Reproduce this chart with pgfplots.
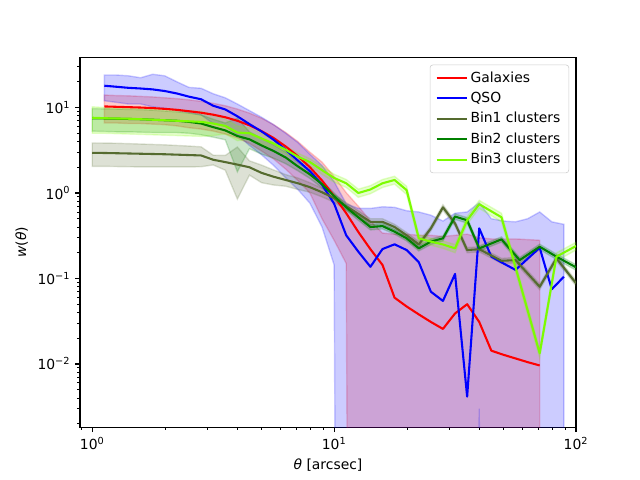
\documentclass[border=0pt]{standalone}
\usepackage{fontspec}
\setmainfont{DejaVu Sans}
\usepackage{pgfplots}
\usepackage{pgfplotstable}
\pgfplotsset{compat=1.18}
\usepgfplotslibrary{fillbetween}

\definecolor{oliveA}{HTML}{556B2F}
\definecolor{grnA}{HTML}{008000}
\definecolor{lgrnA}{HTML}{7CFC00}

\pgfplotstableread{
x w lo hi
1.122 10.3 6.6 14.0
1.259 10.2 6.6 13.8
1.413 10.1 6.5 13.7
1.585 10.0 6.5 13.5
1.778 9.85 6.4 13.3
1.995 9.65 6.3 13.0
2.239 9.4 6.1 12.7
2.512 9.05 5.8 12.3
2.818 8.7 5.6 11.8
3.162 8.25 5.3 11.2
3.548 7.7 4.9 10.5
3.981 7.0 4.4 9.6
4.467 6.2 3.8 8.6
5.012 5.3 3.1 7.5
5.623 4.4 2.5 6.3
6.310 3.5 1.9 5.1
7.079 2.7 1.4 4.0
7.943 2.0 1.0 3.0
8.913 1.4 0.5 2.3
10.00 0.92 0.28 1.56
11.22 0.58 0.15 1.01
12.59 0.35 1e-30 0.70
14.13 0.22 1e-30 0.47
15.85 0.144 1e-30 0.34
17.78 0.0596 1e-30 0.33
19.95 0.047 1e-30 0.33
22.39 0.038 1e-30 0.32
25.12 0.031 1e-30 0.32
28.18 0.0257 1e-30 0.31
31.62 0.039 1e-30 0.32
35.48 0.050 1e-30 0.33
39.81 0.031 1e-30 0.30
44.67 0.0143 1e-30 0.29
50.12 0.0128 1e-30 0.29
56.23 0.0116 1e-30 0.29
63.10 0.0105 1e-30 0.285
70.79 0.0096 1e-30 0.28
}\gal

\pgfplotstableread{
x w lo hi
1.122 18.0 12.0 24.0
1.259 17.5 11.5 24.0
1.413 17.0 11.0 23.5
1.585 16.7 11.0 22.3
1.778 16.3 10.2 24.5
1.995 15.6 9.8 23.5
2.239 14.6 9.2 20.0
2.512 13.4 8.7 17.2
2.818 12.5 8.2 16.8
3.162 10.5 6.5 14.5
3.548 9.5 6.0 13.0
3.981 7.9 4.8 11.0
4.467 6.4 3.6 9.2
5.012 5.25 2.8 7.7
5.623 4.2 2.1 6.3
6.310 3.2 1.5 5.0
7.079 2.4 1.1 3.9
7.943 1.8 0.76 2.84
8.913 1.25 0.4 2.1
10.00 0.75 0.144 1.36
11.22 0.32 1e-30 0.75
12.59 0.206 1e-30 0.66
14.13 0.137 1e-30 0.66
15.85 0.221 1e-30 0.69
17.78 0.251 1e-30 0.68
19.95 0.215 1e-30 0.62
22.39 0.155 1e-30 0.60
25.12 0.070 1e-30 0.55
28.18 0.0546 1e-30 0.47
31.62 0.113 1e-30 0.58
35.48 0.00415 1e-30 0.60
39.81 0.386 0.003 0.769
44.67 0.18 1e-30 0.50
50.12 0.15 1e-30 0.47
56.23 0.126 1e-30 0.46
63.10 0.17 1e-30 0.50
70.79 0.229 1e-30 0.60
79.43 0.0748 1e-30 0.46
89.13 0.105 1e-30 0.43
}\qso

\pgfplotstableread{
x w lo hi
1.000 2.95 2.05 3.85
1.122 2.94 2.05 3.84
1.259 2.92 2.04 3.82
1.413 2.90 2.03 3.78
1.585 2.88 2.02 3.74
1.778 2.86 2.02 3.70
1.995 2.84 2.02 3.66
2.239 2.81 2.02 3.60
2.512 2.78 2.02 3.54
2.818 2.75 2.03 3.47
3.162 2.45 2.13 2.77
3.548 2.30 1.85 2.75
3.981 2.15 0.85 3.45
4.467 2.00 1.62 2.38
5.012 1.72 1.32 2.12
5.623 1.55 1.24 1.86
6.310 1.42 1.20 1.64
7.079 1.30 1.10 1.50
7.943 1.17 1.02 1.32
8.913 1.02 0.90 1.14
10.00 0.87 0.78 0.96
11.22 0.70 0.63 0.77
12.59 0.57 0.52 0.62
14.13 0.46 0.42 0.50
15.85 0.46 0.42 0.50
17.78 0.40 0.37 0.43
19.95 0.32 0.295 0.345
22.39 0.25 0.23 0.27
25.12 0.386 0.36 0.41
28.18 0.68 0.63 0.73
31.62 0.44 0.41 0.47
35.48 0.215 0.20 0.23
39.81 0.22 0.205 0.235
49.2 0.161 0.15 0.172
56.23 0.164 0.152 0.176
70.79 0.080 0.074 0.086
83.0 0.172 0.16 0.184
100 0.088 0.082 0.094
}\binone

\pgfplotstableread{
x w lo hi
1.000 7.5 5.3 9.7
1.122 7.45 5.25 9.65
1.259 7.4 5.2 9.6
1.413 7.35 5.2 9.5
1.585 7.3 5.15 9.45
1.778 7.2 5.1 9.3
1.995 7.1 5.1 9.1
2.239 7.0 5.1 8.9
2.512 6.8 5.0 8.6
2.818 6.5 4.8 8.2
3.162 5.9 4.5 7.3
3.548 5.4 4.2 6.6
3.981 4.64 1.77 7.5
4.467 4.25 3.3 5.2
5.012 3.6 2.85 4.35
5.623 3.1 2.55 3.65
6.310 2.6 2.2 3.0
7.079 2.05 1.82 2.28
7.943 1.65 1.48 1.82
8.913 1.27 1.15 1.39
10.00 0.92 0.84 1.00
11.22 0.68 0.63 0.73
12.59 0.52 0.48 0.56
14.13 0.40 0.37 0.43
15.85 0.41 0.38 0.44
17.78 0.353 0.33 0.376
19.95 0.295 0.275 0.315
22.39 0.225 0.21 0.24
25.12 0.27 0.25 0.29
28.18 0.295 0.275 0.315
31.62 0.53 0.49 0.57
35.48 0.48 0.445 0.515
39.81 0.225 0.21 0.24
49.2 0.287 0.267 0.307
58.5 0.164 0.152 0.176
70.79 0.235 0.218 0.252
83.0 0.18 0.167 0.193
100 0.135 0.125 0.145
}\bintwo

\pgfplotstableread{
x w lo hi
1.000 7.6 5.0 10.2
1.122 7.5 5.0 10.0
1.259 7.45 4.95 9.95
1.413 7.4 4.9 9.9
1.585 7.3 4.85 9.75
1.778 7.2 4.8 9.6
1.995 7.1 4.75 9.45
2.239 7.0 4.7 9.3
2.512 6.9 4.65 9.15
2.818 6.8 4.6 9.0
3.162 6.5 4.7 8.3
3.548 6.1 4.9 7.3
3.981 5.1 4.1 6.1
4.467 5.0 4.2 5.8
5.012 4.35 3.75 4.95
5.623 3.8 3.35 4.25
6.310 3.2 2.85 3.55
7.079 2.66 2.39 2.93
7.943 2.3 2.08 2.52
8.913 1.85 1.65 2.05
10.00 1.5 1.34 1.66
11.22 1.3 1.16 1.44
12.59 1.0 0.89 1.11
14.13 1.10 0.98 1.22
15.85 1.30 1.16 1.44
17.78 1.42 1.27 1.57
19.95 1.08 0.96 1.20
22.39 0.295 0.265 0.325
25.12 0.27 0.245 0.295
28.18 0.25 0.225 0.275
31.62 0.225 0.20 0.25
35.48 0.48 0.43 0.53
39.81 0.74 0.66 0.82
49.2 0.52 0.46 0.58
70.79 0.0133 0.0118 0.0148
83.0 0.18 0.16 0.20
100 0.24 0.215 0.265
}\binthree

\begin{document}
\begin{tikzpicture}
\path (-57.6pt,-38.02pt) rectangle (403.2pt,307.58pt);
\begin{axis}[
  at={(0,0)}, anchor=south west,
  scale only axis, width=357.12pt, height=266.11pt,
  xmode=log, ymode=log,
  xmin=0.89, xmax=100, ymin=0.00182, ymax=38.4,
  xtick={1,10,100},
  xticklabels={10\textsuperscript{0},10\textsuperscript{1},10\textsuperscript{2}},
  ytick={0.01,0.1,1,10},
  yticklabels={10\textsuperscript{−2},10\textsuperscript{−1},10\textsuperscript{0},10\textsuperscript{1}},
  minor xtick={0.9,2,3,4,5,6,7,8,9,20,30,40,50,60,70,80,90},
  minor ytick={0.002,0.003,0.004,0.005,0.006,0.007,0.008,0.009,0.02,0.03,0.04,0.05,0.06,0.07,0.08,0.09,0.2,0.3,0.4,0.5,0.6,0.7,0.8,0.9,2,3,4,5,6,7,8,9,20,30},
  tick align=outside, tick pos=left,
  major tick length=3.5pt, minor tick length=2pt,
  every major tick/.style={black, line width=0.8pt},
  every minor tick/.style={black, line width=0.6pt},
  axis line style={line width=0.8pt},
  tick label style={font=\fontsize{10}{12}\selectfont},
  label style={font=\fontsize{10}{12}\selectfont},
  xlabel={\textit{θ} [arcsec]},
  ylabel={\textit{w}(\textit{θ})},
  legend cell align=left,
  legend style={at={(0.986,0.981)}, anchor=north east, draw=black!20,
    rounded corners=2pt, fill=white, fill opacity=0.8, text opacity=1,
    font=\fontsize{10}{12}\selectfont, row sep=1.6pt, inner xsep=4pt, inner ysep=3pt},
  legend image code/.code={\draw[#1, line width=1.5pt] (0pt,0pt) -- (21.6pt,0pt);},
]
% bands
\addplot[name path=galhi, draw=none, forget plot] table[x=x,y=hi]{\gal};
\addplot[name path=gallo, draw=none, forget plot] table[x=x,y=lo]{\gal};
\addplot[fill=red, draw=red, fill opacity=0.2, draw opacity=0.2, line width=1pt, forget plot] fill between[of=galhi and gallo];

\addplot[name path=qsohi, draw=none, forget plot] table[x=x,y=hi]{\qso};
\addplot[name path=qsolo, draw=none, forget plot] table[x=x,y=lo]{\qso};
\addplot[fill=blue, draw=blue, fill opacity=0.2, draw opacity=0.2, line width=1pt, forget plot] fill between[of=qsohi and qsolo];

\addplot[name path=bahi, draw=none, forget plot] table[x=x,y=hi]{\binone};
\addplot[name path=balo, draw=none, forget plot] table[x=x,y=lo]{\binone};
\addplot[fill=oliveA, draw=oliveA, fill opacity=0.2, draw opacity=0.2, line width=1pt, forget plot] fill between[of=bahi and balo];

\addplot[name path=bbhi, draw=none, forget plot] table[x=x,y=hi]{\bintwo};
\addplot[name path=bblo, draw=none, forget plot] table[x=x,y=lo]{\bintwo};
\addplot[fill=grnA, draw=grnA, fill opacity=0.2, draw opacity=0.2, line width=1pt, forget plot] fill between[of=bbhi and bblo];

\addplot[name path=bchi, draw=none, forget plot] table[x=x,y=hi]{\binthree};
\addplot[name path=bclo, draw=none, forget plot] table[x=x,y=lo]{\binthree};
\addplot[fill=lgrnA, draw=lgrnA, fill opacity=0.2, draw opacity=0.2, line width=1pt, forget plot] fill between[of=bchi and bclo];

% lines
\addplot[red, line width=1.5pt, line join=round] table[x=x,y=w]{\gal};
\addlegendentry{Galaxies}
\addplot[blue, line width=1.5pt, line join=round] table[x=x,y=w]{\qso};
\addlegendentry{QSO}
\addplot[oliveA, line width=1.5pt, line join=round] table[x=x,y=w]{\binone};
\addlegendentry{Bin1 clusters}
\addplot[grnA, line width=1.5pt, line join=round] table[x=x,y=w]{\bintwo};
\addlegendentry{Bin2 clusters}
\addplot[lgrnA, line width=1.5pt, line join=round] table[x=x,y=w]{\binthree};
\addlegendentry{Bin3 clusters}
\end{axis}
\end{tikzpicture}
\end{document}
